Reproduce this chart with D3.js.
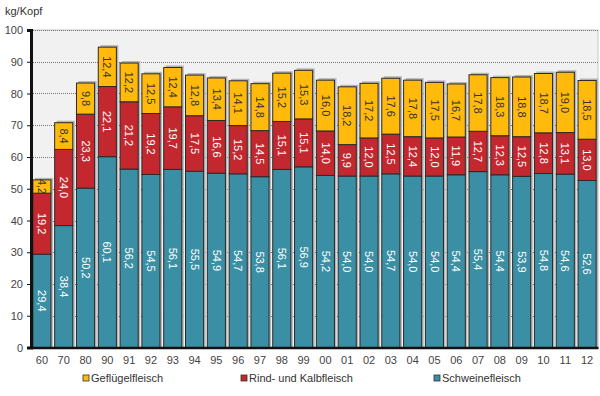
<!DOCTYPE html>
<html>
<head>
<meta charset="utf-8">
<script src="https://cdn.jsdelivr.net/npm/d3@7"></script>
<style>
  body { margin: 0; background: #fff; }
  svg { display: block; font-family: "Liberation Sans", Arial, sans-serif; }
</style>
</head>
<body>
<div id="chart"></div>
<script>
// Fleischverbrauch je Kopf, kg
var years = ['60','70','80','90','91','92','93','94','95','96','97','98','99','00','01','02','03','04','05','06','07','08','09','10','11','12'];
var schwein = [29.4,38.4,50.2,60.1,56.2,54.5,56.1,55.5,54.9,54.7,53.8,56.1,56.9,54.2,54.0,54.0,54.7,54.0,54.0,54.4,55.4,54.4,53.9,54.8,54.6,52.6];
var rind = [19.2,24.0,23.3,22.1,21.2,19.2,19.7,17.5,16.6,15.2,14.5,15.1,15.1,14.0,9.9,12.0,12.5,12.4,12.0,11.9,12.7,12.3,12.5,12.8,13.1,13.0];
var gefluegel = [4.2,8.4,9.8,12.4,12.2,12.5,12.4,12.8,13.4,14.1,14.8,15.2,15.3,16.0,18.2,17.2,17.6,17.8,17.5,16.7,17.8,18.3,18.8,18.7,19.0,18.5];
var yTicks = [0,10,20,30,40,50,60,70,80,90,100];

var width = 600, height = 396;
var plotLeft = 31, plotRight = 598, plotTop = 30, plotBottom = 347.5;

var svg = d3.select('#chart').append('svg')
  .attr('width', width)
  .attr('height', height);

var x = d3.scaleBand().domain(years).range([plotLeft, plotRight])
  .paddingInner(0.17).paddingOuter(0.085);
var y = d3.scaleLinear().domain([0, 100]).range([plotBottom, plotTop]);

var series = [
  {key: 'schwein', name: 'Schweinefleisch', color: '#3a8fa4', text: '#fff', values: schwein},
  {key: 'rind', name: 'Rind- und Kalbfleisch', color: '#c4282f', text: '#fff', values: rind},
  {key: 'gefluegel', name: 'Geflügelfleisch', color: '#ffba0c', text: '#333', values: gefluegel}
];

var table = years.map(function (yr, i) {
  var row = {year: yr};
  series.forEach(function (s) { row[s.key] = s.values[i]; });
  return row;
});
var stack = d3.stack().keys(series.map(function (s) { return s.key; }))(table);
var total = function (d) { return d.schwein + d.rind + d.gefluegel; };

// plot background
svg.append('rect')
  .attr('x', plotLeft).attr('y', plotTop)
  .attr('width', plotRight - plotLeft).attr('height', plotBottom - plotTop)
  .attr('fill', '#f1f1f1')
  .attr('stroke', '#c8c8c8').attr('stroke-width', 1);

// gridlines
svg.append('g').selectAll('line')
  .data(yTicks.filter(function (t) { return t > 0; }))
  .enter().append('line')
  .attr('x1', plotLeft).attr('x2', plotRight)
  .attr('y1', function (d) { return Math.round(y(d)) + 0.5; })
  .attr('y2', function (d) { return Math.round(y(d)) + 0.5; })
  .attr('stroke', '#777')
  .attr('stroke-dasharray', '1,1');

// bar shadows
svg.append('g').selectAll('rect')
  .data(table)
  .enter().append('rect')
  .attr('x', function (d) { return x(d.year) + 2; })
  .attr('y', function (d) { return y(total(d)) - 2; })
  .attr('width', x.bandwidth())
  .attr('height', function (d) { return plotBottom - y(total(d)) + 2; })
  .attr('fill', '#b5b5b5');

// bars
var layers = svg.append('g').selectAll('g')
  .data(stack)
  .enter().append('g')
  .attr('fill', function (d, i) { return series[i].color; });

layers.selectAll('rect')
  .data(function (d) { return d; })
  .enter().append('rect')
  .attr('x', function (d) { return x(d.data.year); })
  .attr('y', function (d) { return y(d[1]); })
  .attr('width', x.bandwidth())
  .attr('height', function (d) { return y(d[0]) - y(d[1]); })
  .attr('stroke', '#2a2a2a')
  .attr('stroke-width', 1);

// value labels, rotated
var fmt = function (v) { return v.toFixed(1).replace('.', ','); };
svg.append('g').selectAll('g')
  .data(stack)
  .enter().append('g')
  .attr('fill', function (d, i) { return series[i].text; })
  .selectAll('text')
  .data(function (d) { return d; })
  .enter().append('text')
  .attr('transform', function (d) {
    var cx = x(d.data.year) + x.bandwidth() / 2;
    var cy = (y(d[0]) + y(d[1])) / 2;
    return 'translate(' + cx + ',' + cy + ') rotate(90)';
  })
  .attr('text-anchor', 'middle')
  .attr('dy', '0.35em')
  .style('font-size', '11px')
  .text(function (d) { return fmt(d[1] - d[0]); });

// y axis
var yAxis = svg.append('g')
  .attr('transform', 'translate(' + plotLeft + ',0)')
  .call(d3.axisLeft(y).tickValues(yTicks).tickSize(4).tickPadding(4));
yAxis.select('.domain').attr('stroke', '#111').attr('stroke-width', 3);
yAxis.selectAll('.tick line').attr('stroke', '#111');
yAxis.selectAll('.tick text')
  .attr('fill', '#444')
  .style('font-size', '11px')
  .style('font-family', '"Liberation Sans", Arial, sans-serif');

// x axis
var xAxis = svg.append('g')
  .attr('transform', 'translate(0,' + plotBottom + ')')
  .call(d3.axisBottom(x).tickSize(0).tickPadding(9));
xAxis.select('.domain').attr('stroke', '#111').attr('stroke-width', 2.5);
xAxis.selectAll('.tick text')
  .attr('fill', '#444')
  .style('font-size', '11px')
  .style('font-family', '"Liberation Sans", Arial, sans-serif');

// unit
svg.append('text')
  .attr('x', 5).attr('y', 15)
  .attr('fill', '#333')
  .style('font-size', '11px')
  .text('kg/Kopf');

// legend
var legendOrder = [series[2], series[1], series[0]];
var legendX = [83, 241, 434];
var legend = svg.append('g').selectAll('g')
  .data(legendOrder)
  .enter().append('g')
  .attr('transform', function (d, i) { return 'translate(' + legendX[i] + ',375)'; });
legend.append('rect')
  .attr('width', 6).attr('height', 6)
  .attr('fill', function (d) { return d.color; })
  .attr('stroke', '#333').attr('stroke-width', 0.8);
legend.append('text')
  .attr('x', 8).attr('y', 7)
  .attr('fill', '#333')
  .style('font-size', '11px')
  .text(function (d) { return d.name; });
</script>
</body>
</html>
